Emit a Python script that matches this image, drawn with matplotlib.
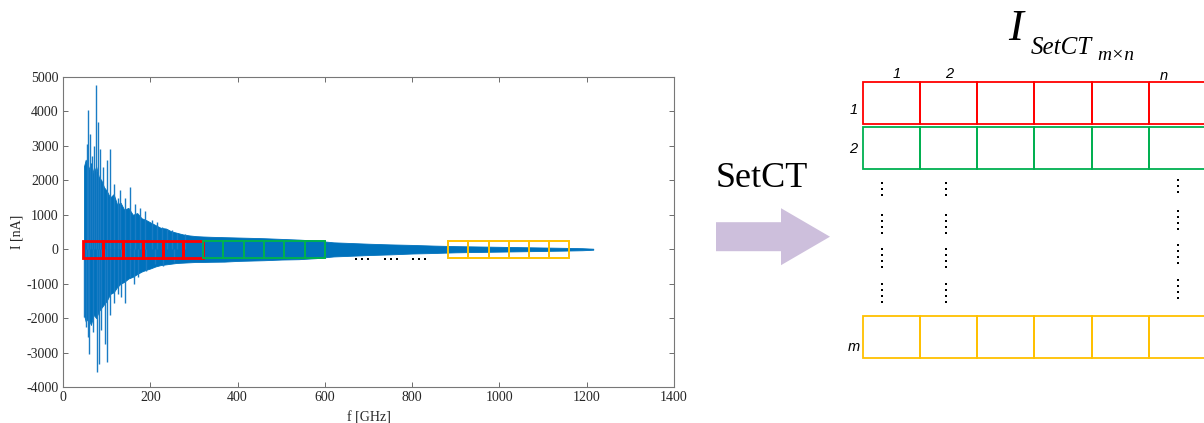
import numpy as np
import matplotlib
matplotlib.use("Agg")
import matplotlib.pyplot as plt
from matplotlib.patches import Rectangle, FancyArrow

plt.rcParams['axes.unicode_minus'] = False

# ---- signal data ----
freq_env = [48, 52, 58, 64, 70, 76, 82, 88, 94, 100, 108, 116, 124, 132, 140,
            150, 160, 170, 180, 190, 200, 212, 224, 236, 248, 260, 275, 290,
            305, 320, 340, 370, 400, 430, 460, 500, 540, 580, 620, 660, 700,
            750, 800, 850, 900, 950, 1000, 1050, 1100, 1150, 1190, 1215]
upper_env = [2400, 2600, 2300, 2500, 2200, 2400, 2100, 2000, 1800, 1700, 1500,
             1600, 1300, 1350, 1150, 1200, 1000, 1050, 900, 850, 780, 700, 620,
             600, 520, 480, 430, 400, 380, 370, 360, 350, 340, 330, 320, 300,
             280, 250, 200, 180, 160, 140, 125, 105, 90, 80, 70, 60, 50, 40,
             30, 15]
lower_env = [-1900, -2100, -2000, -2200, -1900, -2000, -1800, -1700, -1600,
             -1500, -1300, -1250, -1100, -1000, -950, -850, -800, -720, -650,
             -600, -560, -500, -460, -440, -420, -400, -390, -380, -370, -370,
             -365, -360, -340, -330, -320, -300, -290, -260, -210, -190, -170,
             -150, -125, -110, -90, -80, -70, -60, -50, -40, -30, -15]

spike_up_f = [54, 57, 62, 66, 72, 76, 80, 85, 92, 101, 108, 118, 125, 131,
              142, 153, 165, 176, 188, 203, 215, 226, 238, 249, 262, 280]
spike_up_i = [3065, 4030, 3355, 2700, 3000, 4760, 3700, 2920, 2400, 2590, 2920,
              1900, 1500, 1710, 1500, 1805, 1300, 1200, 1100, 850, 800, 650,
              600, 550, 480, 430]
spike_dn_f = [48, 52, 58, 60, 68, 77, 82, 88, 96, 101, 108, 118, 126, 134,
              143, 153, 162, 172, 191, 211, 230, 255]
spike_dn_i = [-1970, -2260, -2550, -3030, -2400, -3565, -3325, -2350, -2745,
              -3275, -1900, -1550, -1300, -1390, -1570, -805, -1000, -805,
              -630, -435, -500, -380]

# ---- SetCT windows ----
win_width = 46
win_half_height = 250
red_starts = [45, 91, 137, 183, 229, 275]
green_starts = [321, 367.5, 414, 460.5, 507, 553.5]
yellow_starts = [883, 929, 975, 1021, 1067, 1113]
gap_dots_f = [671, 685, 699, 738, 752, 765, 802, 816, 830]
gap_dots_i = [-275] * 9

blue = '#0072BD'
red = '#FF0000'
green = '#00B050'
yellow = '#FFC000'

fig = plt.figure(figsize=(12.04, 4.23), dpi=100)
ax = fig.add_axes([63 / 1204, 36 / 423, 611 / 1204, 310 / 423])

ax.fill_between(freq_env, lower_env, upper_env, color=blue, lw=0.6,
                edgecolor=blue, zorder=2)
ax.vlines(spike_up_f, 0, spike_up_i, color='#1a7cc4', lw=1.0, zorder=2)
ax.vlines(spike_dn_f, 0, spike_dn_i, color='#1a7cc4', lw=1.0, zorder=2)

for starts, col, lw in [(red_starts, red, 2.0), (green_starts, green, 1.4),
                        (yellow_starts, yellow, 1.4)]:
    for s in starts:
        w = win_width + (0.5 if col == green else 0)
        ax.add_patch(Rectangle((s, -win_half_height), w, 2 * win_half_height,
                               fill=False, edgecolor=col, lw=lw, zorder=3))
ax.scatter(gap_dots_f, gap_dots_i, marker='s', s=4, color='black', zorder=3,
           linewidths=0)

ax.set_xlim(0, 1400)
ax.set_ylim(-4000, 5000)
ax.set_xticks(np.arange(0, 1401, 200))
ax.set_yticks(np.arange(-4000, 5001, 1000))
ax.tick_params(direction='in', top=True, right=True, length=3.5, width=0.6,
               colors='#555555', labelcolor='#262626', labelsize=10, pad=3)
for lab in ax.get_xticklabels() + ax.get_yticklabels():
    lab.set_family('Liberation Serif')
for sp in ax.spines.values():
    sp.set_color('#777777')
    sp.set_linewidth(0.8)
ax.set_xlabel('f [GHz]', family='Liberation Serif', fontsize=10, color='#262626',
              labelpad=5)
ax.set_ylabel('I [nA]', family='Liberation Serif', fontsize=10, color='#262626',
              labelpad=2)

# ---- diagram overlay in pixel coordinates ----
ov = fig.add_axes([0, 0, 1, 1])
ov.set_xlim(0, 1204)
ov.set_ylim(423, 0)
ov.axis('off')
ov.patch.set_alpha(0)

ov.add_patch(FancyArrow(716, 236.7, 114, 0, width=29, head_width=57,
                        head_length=49, length_includes_head=True,
                        color='#CDBFDC', lw=0))
ov.text(762, 187, 'SetCT', family='Liberation Serif', fontsize=26,
        ha='center', va='baseline', color='black')

ov.text(1008, 40, 'I', family='Liberation Serif', style='italic', fontsize=32,
        ha='left', va='baseline')
ov.text(1031, 54, 'SetCT', family='Liberation Serif', style='italic',
        fontsize=18, ha='left', va='baseline')
ov.text(1097, 60, 'm\u00d7n', family='Liberation Serif', style='italic',
        fontsize=14, ha='left', va='baseline')

cell_w = 57.3
cell_left = 862.5
rows = [(82.5, 42, red), (127, 42.5, green), (316, 42.5, yellow)]
for top, h, col in rows:
    for k in range(6):
        ov.add_patch(Rectangle((cell_left + k * cell_w, top), cell_w, h,
                               fill=False, edgecolor=col, lw=1.3))

lab_kw = dict(family='Liberation Sans', style='italic', fontsize=10.5,
              ha='center', va='center')
ov.text(897, 74.5, '1', **lab_kw)
ov.text(949, 74.5, '2', **lab_kw)
ov.text(1164, 75.5, 'n', **lab_kw)
ov.text(853.5, 110, '1', **lab_kw)
ov.text(853, 149, '2', **lab_kw)
ov.text(854, 347, 'm', **lab_kw)

# vertical ellipsis dots
dot_cols = [(882, [183, 215, 249, 284], [3, 4, 4, 4]),
            (946, [183, 215, 249, 284], [3, 4, 4, 4]),
            (1178, [180, 211, 245, 280], [3, 4, 4, 4])]
for cx, tops, counts in dot_cols:
    for t, c in zip(tops, counts):
        ys = [t + 6 * j for j in range(c)]
        ov.scatter([cx] * c, ys, marker='s', s=4, color='black', linewidths=0)

fig.savefig('out.png', dpi=100)
